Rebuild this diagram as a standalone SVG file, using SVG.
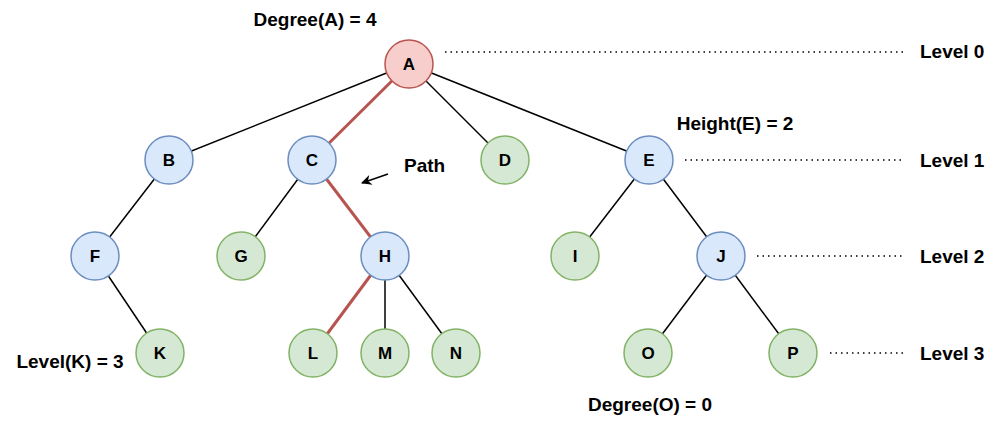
<svg xmlns="http://www.w3.org/2000/svg" width="997" height="423" viewBox="0 0 997 423">
<defs>
<style>
text{font-family:"Liberation Sans",Arial,sans-serif;font-weight:bold;font-size:19px;fill:#000}
.n text{text-anchor:middle;dominant-baseline:central;font-size:17px}
.b circle{fill:#dae8fc;stroke:#6c8ebf;stroke-width:1.5}
.g circle{fill:#d5e8d4;stroke:#82b366;stroke-width:1.5}
.r circle{fill:#f8cecc;stroke:#b85450;stroke-width:1.5}
.e line{stroke:#000;stroke-width:1.5}
.e line.p{stroke:#b85450;stroke-width:3}
.d line{stroke:#000;stroke-width:1.3;stroke-dasharray:1.5 4}
</style>
<marker id="ar" viewBox="0 0 10 10" refX="9" refY="5" markerWidth="7" markerHeight="7" orient="auto"><path d="M0,0L10,5L0,10L3,5z" fill="#000"/></marker>
</defs>
<g id="connectors" class="e">
<line x1="409" y1="64" x2="169" y2="160"/>
<line class="p" x1="409" y1="64" x2="312" y2="160"/>
<line x1="409" y1="64" x2="505" y2="160"/>
<line x1="409" y1="64" x2="649" y2="160"/>
<line x1="169" y1="160" x2="95" y2="256"/>
<line x1="312" y1="160" x2="241" y2="256"/>
<line class="p" x1="312" y1="160" x2="385" y2="256"/>
<line x1="649" y1="160" x2="575" y2="256"/>
<line x1="649" y1="160" x2="721" y2="256"/>
<line x1="95" y1="256" x2="160" y2="353"/>
<line class="p" x1="385" y1="256" x2="313" y2="353"/>
<line x1="385" y1="256" x2="385" y2="353"/>
<line x1="385" y1="256" x2="456" y2="353"/>
<line x1="721" y1="256" x2="648" y2="353"/>
<line x1="721" y1="256" x2="793" y2="353"/>
<line x1="388" y1="174" x2="362" y2="183" marker-end="url(#ar)"/>
</g>
<g class="d">
<line x1="445" y1="52" x2="905" y2="52"/>
<line x1="685" y1="160" x2="905" y2="160"/>
<line x1="757" y1="256" x2="905" y2="256"/>
<line x1="830" y1="353" x2="905" y2="353"/>
</g>
<g class="n">
<g id="A" class="r"><circle cx="409" cy="64" r="24"/><text x="409" y="64">A</text></g>
<g id="B" class="b"><circle cx="169" cy="160" r="24"/><text x="169" y="160">B</text></g>
<g id="C" class="b"><circle cx="312" cy="160" r="24"/><text x="312" y="160">C</text></g>
<g id="D" class="g"><circle cx="505" cy="160" r="24"/><text x="505" y="160">D</text></g>
<g id="E" class="b"><circle cx="649" cy="160" r="24"/><text x="649" y="160">E</text></g>
<g id="F" class="b"><circle cx="95" cy="256" r="24"/><text x="95" y="256">F</text></g>
<g id="G" class="g"><circle cx="241" cy="256" r="24"/><text x="241" y="256">G</text></g>
<g id="H" class="b"><circle cx="385" cy="256" r="24"/><text x="385" y="256">H</text></g>
<g id="I" class="g"><circle cx="575" cy="256" r="24"/><text x="575" y="256">I</text></g>
<g id="J" class="b"><circle cx="721" cy="256" r="24"/><text x="721" y="256">J</text></g>
<g id="K" class="g"><circle cx="160" cy="353" r="24"/><text x="160" y="353">K</text></g>
<g id="L" class="g"><circle cx="313" cy="353" r="24"/><text x="313" y="353">L</text></g>
<g id="M" class="g"><circle cx="385" cy="353" r="24"/><text x="385" y="353">M</text></g>
<g id="N" class="g"><circle cx="456" cy="353" r="24"/><text x="456" y="353">N</text></g>
<g id="O" class="g"><circle cx="648" cy="353" r="24"/><text x="648" y="353">O</text></g>
<g id="P" class="g"><circle cx="793" cy="353" r="24"/><text x="793" y="353">P</text></g>
</g>
<g id="labels">
<text x="315" y="26" text-anchor="middle">Degree(A) = 4</text>
<text x="735" y="130" text-anchor="middle">Height(E) = 2</text>
<text x="404" y="172">Path</text>
<text x="70" y="368" text-anchor="middle">Level(K) = 3</text>
<text x="650" y="411" text-anchor="middle">Degree(O) = 0</text>
<text x="920" y="58">Level 0</text>
<text x="920" y="167">Level 1</text>
<text x="920" y="263">Level 2</text>
<text x="920" y="360">Level 3</text>
</g>
</svg>
